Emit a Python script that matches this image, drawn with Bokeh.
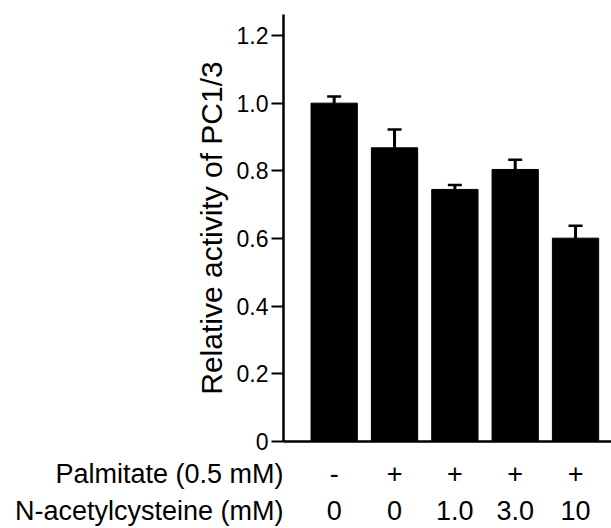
from bokeh.plotting import figure
from bokeh.models import Range1d, FixedTicker, ColumnDataSource, Whisker, TeeHead
from bokeh.core.properties import value
from bokeh.embed import file_html
from bokeh.resources import INLINE

# ---- data ----
groups = [0, 1, 2, 3, 4]
means = [1.000, 0.868, 0.745, 0.804, 0.601]
errors = [0.020, 0.054, 0.013, 0.029, 0.037]
palmitate = ["-", "+", "+", "+", "+"]
nac = ["0", "0", "1.0", "3.0", "10"]
row_titles = ["Palmitate (0.5 mM)", "N-acetylcysteine (mM)"]
y_ticks = [0, 0.2, 0.4, 0.6, 0.8, 1.0, 1.2]
y_tick_labels = ["0", "0.2", "0.4", "0.6", "0.8", "1.0", "1.2"]

FONT = "Liberation Sans"

W, H = 611, 528
axis_top_px, axis_bot_px, axis_left_px = 14, 441, 283
y_max = 1.262
ppu = (axis_bot_px - axis_top_px) / y_max      # pixels per unit (y)
x0, x1 = -0.84, 4.596
xppu = (W - axis_left_px) / (x1 - x0)           # pixels per unit (x)

# the frame covers the whole canvas; axes sit at fixed data locations
fx0 = x0 - axis_left_px / xppu
fy1 = y_max + axis_top_px / ppu
fy0 = -(H - axis_bot_px) / ppu

p = figure(width=W, height=H, output_backend="svg", toolbar_location=None,
           x_range=Range1d(fx0, x1), y_range=Range1d(fy0, fy1),
           min_border=0, title=None)
p.outline_line_color = None
p.grid.visible = False

src = ColumnDataSource(dict(x=groups, top=means,
                            upper=[m + e for m, e in zip(means, errors)],
                            lower=means))

p.vbar(x="x", top="top", width=0.767, source=src, fill_color="black", line_color="black")

wh = Whisker(base="x", upper="upper", lower="lower", source=src, dimension="height",
             line_color="black", line_width=3,
             upper_head=TeeHead(size=14, line_color="black", line_width=2.5),
             lower_head=None)
p.add_layout(wh)

# y axis
ya = p.yaxis[0]
ya.fixed_location = x0
ya.bounds = (0, y_max)
ya.ticker = FixedTicker(ticks=y_ticks)
ya.major_label_overrides = {t: l for t, l in zip(y_ticks, y_tick_labels)}
ya.major_label_text_font = FONT
ya.major_label_text_font_size = "23px"
ya.major_label_text_color = "black"
ya.major_tick_out = 12
ya.major_tick_in = 0
ya.minor_tick_out = 0
ya.minor_tick_in = 0
ya.major_tick_line_width = 2
ya.axis_line_width = 2.5
ya.major_label_standoff = 3
ya.axis_label = "Relative activity of PC1/3"
ya.axis_label_text_font = FONT
ya.axis_label_text_font_size = "30px"
ya.axis_label_text_font_style = "normal"
ya.axis_label_text_color = "black"
ya.axis_label_standoff = 6

# x axis: line only
xa = p.xaxis[0]
xa.fixed_location = 0
xa.bounds = (x0, x1)
xa.ticker = FixedTicker(ticks=[])
xa.major_tick_out = 0
xa.major_tick_in = 0
xa.minor_tick_out = 0
xa.minor_tick_in = 0
xa.major_label_text_font_size = "0px"
xa.axis_line_width = 2.5

# condition rows below the axis (vertical centres of the two rows)
row1_y = -(473 - axis_bot_px) / ppu
row2_y = -(510 - axis_bot_px) / ppu

lab_src = ColumnDataSource(dict(x=groups, y1=[row1_y] * 5, y2=[row2_y] * 5, pal=palmitate, nac=nac))
for ycol, tcol in (("y1", "pal"), ("y2", "nac")):
    p.text(x="x", y=ycol, text=tcol, source=lab_src, text_align="center",
           text_baseline="middle", text_font=value(FONT), text_font_size="27px",
           text_color="black")

p.text(x=[x0, x0], y=[row1_y, row2_y], text=row_titles, text_align="right",
       text_baseline="middle", text_font=value(FONT), text_font_size="27px",
       text_color="black")

open("out.html", "w").write(file_html(p, INLINE))
